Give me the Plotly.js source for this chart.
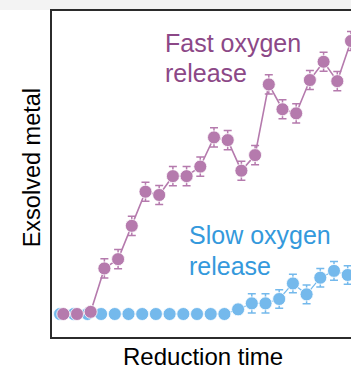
<!DOCTYPE html>
<html>
<head>
<meta charset="utf-8">
<script src="https://cdn.plot.ly/plotly-3.0.1.min.js"></script>
<style>
html,body{margin:0;padding:0;overflow:hidden;width:351px;height:368px;}
body{background:linear-gradient(#f3f3f3 0 10px,#ffffff 10px);}
#chart{position:absolute;left:0;top:0;width:356px;height:368px;}
</style>
</head>
<body>
<div id="chart"></div>
<script>
// Reduction time steps (index)
var steps = [0,1,2,3,4,5,6,7,8,9,10,11,12,13,14,15,16,17,18,19,20,21];
// Fast oxygen release (purple) - exsolved metal (arbitrary units)
var fastValues = [0,0,0.8,16.7,20.1,32.3,44.8,43.6,50.5,50.5,54.0,64.7,63.7,52.5,58.2,84.1,75.0,73.5,85.7,92.4,85.3,100];
var fastErrors = [0,0,0,3.5,3.5,3.5,3.5,3.5,3.5,3.5,3.5,3.5,3.5,3.5,3.5,3.5,3.5,3.5,3.5,3.5,3.5,3.5];
// Slow oxygen release (blue)
var slowValues = [0,0,0,0,0,0,0,0,0,0,0,0,0,1.7,3.9,3.9,5.5,11.2,7.2,13.3,15.8,14.3];
var slowErrors = [0,0,0,0,0,0,0,0,0,0,0,0,0,0,3.5,3.5,3.4,3.4,3.4,3.4,3.4,3.4];
var fastLabel = ["Fast oxygen","release"];
var slowLabel = ["Slow oxygen","release"];
var xTitle = "Reduction time";
var yTitle = "Exsolved metal";

var purple = "rgb(181,122,173)";
var purpleText = "rgb(140,72,135)";
var blue = "rgb(116,185,236)";
var blueText = "rgb(52,153,220)";

var fastX = steps.map(function(s){return s + 0.24;});

var slowTrace = {
  x: steps, y: slowValues, type: "scatter", mode: "lines+markers",
  line: {color: blue, width: 1.2},
  marker: {color: blue, size: 13, line: {color: "#ffffff", width: 0.8}},
  error_y: {type: "data", array: slowErrors, visible: true, color: blue, thickness: 1.5, width: 4},
  hoverinfo: "skip", cliponaxis: false
};
var fastTrace = {
  x: fastX, y: fastValues, type: "scatter", mode: "lines+markers",
  line: {color: purple, width: 1.6},
  marker: {color: purple, size: 13, line: {color: "#ffffff", width: 0.8}},
  error_y: {type: "data", array: fastErrors, visible: true, color: purple, thickness: 1.5, width: 4},
  hoverinfo: "skip", cliponaxis: false
};

// pixel helpers for annotation placement (plot area 52..354 x 11..337)
function px(X){return (X-52)/302;}
function py(Y){return (337-Y)/326;}
var font = "Liberation Sans, Arial, sans-serif";

var layout = {
  width: 356, height: 368,
  margin: {l: 52, r: 2, t: 11, b: 31, pad: 0},
  paper_bgcolor: "rgba(0,0,0,0)",
  plot_bgcolor: "#ffffff",
  showlegend: false,
  font: {family: font},
  xaxis: {range: [-0.584, 21.46], showline: true, mirror: true, linecolor: "#2b2b2b", linewidth: 2,
          showgrid: false, zeroline: false, showticklabels: false, ticks: ""},
  yaxis: {range: [-8.42, 110.99], showline: true, mirror: true, linecolor: "#2b2b2b", linewidth: 2,
          showgrid: false, zeroline: false, showticklabels: false, ticks: ""},
  annotations: [
    {text: fastLabel[0], xref: "paper", yref: "paper", x: px(164), y: py(43.5), xanchor: "left", yanchor: "middle",
     showarrow: false, borderpad: 0, font: {family: font, size: 25, color: purpleText}},
    {text: fastLabel[1], xref: "paper", yref: "paper", x: px(164), y: py(73), xanchor: "left", yanchor: "middle",
     showarrow: false, borderpad: 0, font: {family: font, size: 25, color: purpleText}},
    {text: slowLabel[0], xref: "paper", yref: "paper", x: px(187.5), y: py(235.2), xanchor: "left", yanchor: "middle",
     showarrow: false, borderpad: 0, font: {family: font, size: 25, color: blueText}},
    {text: slowLabel[1], xref: "paper", yref: "paper", x: px(187.5), y: py(266.3), xanchor: "left", yanchor: "middle",
     showarrow: false, borderpad: 0, font: {family: font, size: 25, color: blueText}},
    {text: xTitle, xref: "paper", yref: "paper", x: px(203), y: py(356.5), xanchor: "center", yanchor: "middle",
     showarrow: false, borderpad: 0, font: {family: font, size: 24, color: "#000000"}},
    {text: yTitle, xref: "paper", yref: "paper", x: px(31.8), y: py(167.5), xanchor: "center", yanchor: "middle",
     textangle: -90, showarrow: false, borderpad: 0, font: {family: font, size: 23.5, color: "#000000"}}
  ]
};

Plotly.newPlot("chart", [slowTrace, fastTrace], layout, {staticPlot: true, displayModeBar: false});
</script>
</body>
</html>
